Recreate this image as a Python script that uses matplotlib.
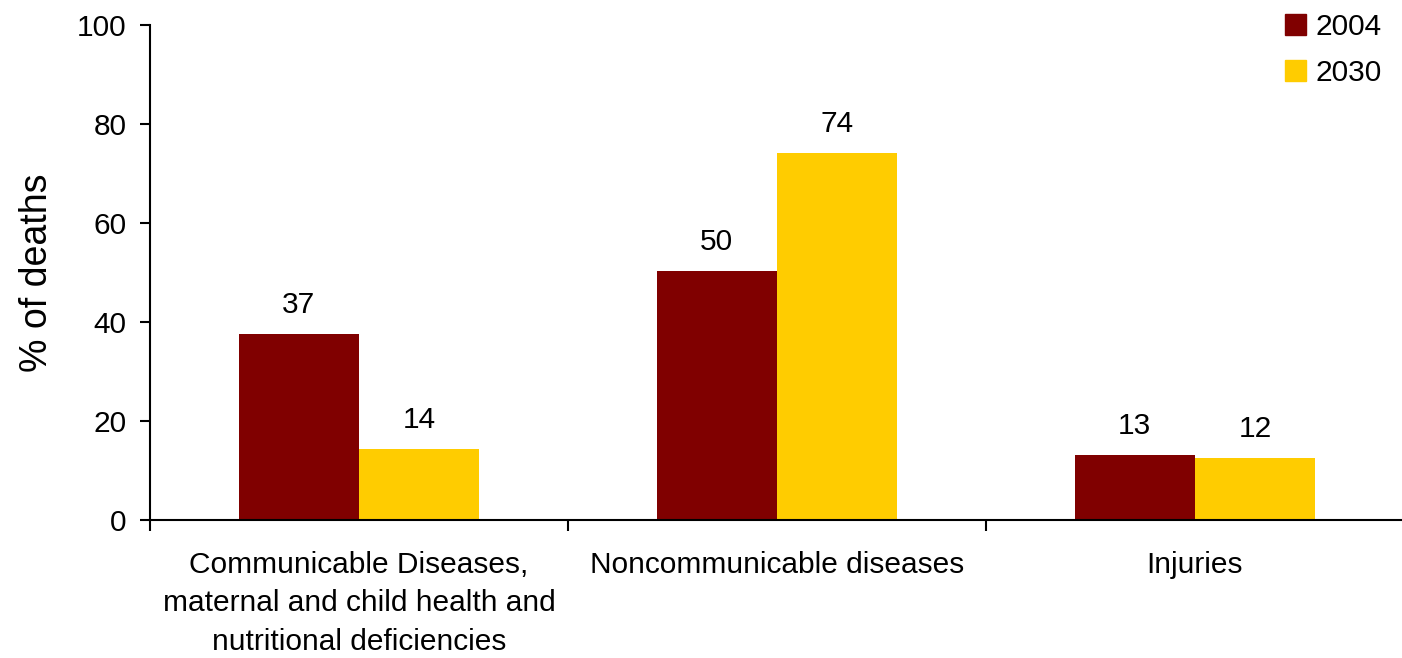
import numpy as np
import matplotlib.pyplot as plt
from matplotlib.patches import Patch

# data
categories = ["Communicable Diseases,\nmaternal and child health and\nnutritional deficiencies",
              "Noncommunicable diseases",
              "Injuries"]
years = ["2004", "2030"]
vals_2004 = [37.6, 50.3, 13.1]
vals_2030 = [14.3, 74.1, 12.5]
labels_2004 = ["37", "50", "13"]
labels_2030 = ["14", "74", "12"]
colors = ["#800000", "#FFCC00"]

plt.rcParams['font.family'] = ['Liberation Sans', 'DejaVu Sans']
fs = 21.5

fig = plt.figure(figsize=(14.02, 6.58), dpi=100)
ax = fig.add_axes([150/1402, 138/658, 1254/1402, 495/658])

x = np.arange(len(categories)) + 0.5
w = 0.288
b1 = ax.bar(x - w/2, vals_2004, w, color=colors[0])
b2 = ax.bar(x + w/2, vals_2030, w, color=colors[1])

# value labels above the bars
for bars, labs in [(b1, labels_2004), (b2, labels_2030)]:
    for r, lab in zip(bars, labs):
        ax.annotate(lab, (r.get_x() + r.get_width()/2, r.get_height()),
                    xytext=(0, 11), textcoords="offset points",
                    ha="center", va="bottom", fontsize=fs)

ax.set_xlim(0, 3)
ax.set_ylim(0, 100)
ax.set_yticks(range(0, 101, 20))
ax.set_xticks([0, 1, 2, 3])
ax.set_xticklabels([])
ax.set_xticks(x, minor=True)
ax.set_xticklabels(categories, minor=True, fontsize=fs, linespacing=1.48)
ax.tick_params(axis="x", which="minor", length=0, pad=22)
ax.tick_params(axis="x", which="major", length=8, width=1.5, direction="out")
ax.tick_params(axis="y", length=7, width=1.5, labelsize=fs, pad=10)
for s in ["top", "right"]:
    ax.spines[s].set_visible(False)
for s in ["left", "bottom"]:
    ax.spines[s].set_linewidth(1.5)

ax.set_ylabel("% of deaths", fontsize=27, labelpad=16)

handles = [Patch(color=c, label=y) for c, y in zip(colors, years)]
fig.legend(handles=handles, loc="upper right", bbox_to_anchor=(0.998, 1.008),
           frameon=False, fontsize=fs, handlelength=0.7, handleheight=0.7,
           handletextpad=0.3, labelspacing=0.6, borderaxespad=0.2)

fig.savefig("out.png", dpi=100)
